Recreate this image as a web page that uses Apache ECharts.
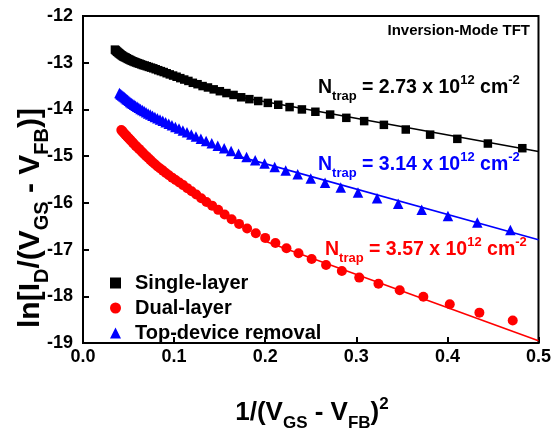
<!DOCTYPE html>
<html><head><meta charset="utf-8">
<script src="https://cdn.jsdelivr.net/npm/echarts@6/dist/echarts.min.js"></script>
<style>html,body{margin:0;padding:0;background:#fff}#c{width:554px;height:435px}</style>
</head><body><div id="c"></div>
<script>
// ---- data ----
const seriesNames = ['Single-layer', 'Dual-layer', 'Top-device removal'];
const xTickLabels = ['0.0', '0.1', '0.2', '0.3', '0.4', '0.5'];
const yTickLabels = ['-19', '-18', '-17', '-16', '-15', '-14', '-13', '-12'];

const xSingle = [0.03507,0.03587,0.03670,0.03756,0.03845,0.03937,0.04032,0.04131,0.04234,0.04340,0.04451,0.04566,0.04685,0.04809,0.04938,0.05073,0.05213,0.05358,0.05510,0.05669,0.05834,0.06007,0.06188,0.06377,0.06575,0.06782,0.06999,0.07226,0.07465,0.07716,0.07980,0.08257,0.08550,0.08858,0.09183,0.09526,0.09889,0.10273,0.10680,0.11111,0.11569,0.12056,0.12575,0.13127,0.13717,0.14348,0.15023,0.15747,0.16525,0.17361,0.18263,0.19237,0.20291,0.21433,0.22676,0.24029,0.25508,0.27127,0.28905,0.30864,0.33029,0.35431,0.38104,0.41091,0.44444,0.48225];
const ySingle = [-12.72,-12.735,-12.75,-12.765,-12.78,-12.795,-12.81,-12.825,-12.84,-12.855,-12.87,-12.88,-12.89,-12.905,-12.92,-12.93,-12.945,-12.96,-12.97,-12.985,-12.995,-13.01,-13.02,-13.035,-13.05,-13.06,-13.075,-13.09,-13.105,-13.12,-13.14,-13.16,-13.18,-13.20,-13.225,-13.25,-13.275,-13.30,-13.33,-13.36,-13.39,-13.43,-13.46,-13.50,-13.53,-13.57,-13.61,-13.65,-13.69,-13.74,-13.78,-13.82,-13.86,-13.90,-13.95,-14.00,-14.05,-14.11,-14.18,-14.25,-14.33,-14.43,-14.54,-14.63,-14.73,-14.83];

const xDual = [0.04206,0.04311,0.04421,0.04535,0.04653,0.04776,0.04903,0.05036,0.05175,0.05319,0.05469,0.05626,0.05790,0.05961,0.06139,0.06326,0.06521,0.06725,0.06940,0.07164,0.07400,0.07648,0.07908,0.08182,0.08470,0.08774,0.09094,0.09432,0.09790,0.10169,0.10569,0.10994,0.11444,0.11923,0.12433,0.12977,0.13556,0.14176,0.14838,0.15549,0.16311,0.17132,0.18015,0.18969,0.20001,0.21120,0.22335,0.23657,0.25100,0.26680,0.28414,0.30323,0.32431,0.34766,0.37362,0.40261,0.43511,0.47171];
const yDual = [-14.44,-14.465,-14.49,-14.515,-14.54,-14.565,-14.595,-14.62,-14.65,-14.68,-14.71,-14.745,-14.78,-14.81,-14.845,-14.88,-14.92,-14.96,-15.00,-15.04,-15.085,-15.13,-15.175,-15.22,-15.265,-15.31,-15.36,-15.41,-15.46,-15.51,-15.565,-15.62,-15.685,-15.75,-15.82,-15.90,-15.98,-16.06,-16.15,-16.25,-16.35,-16.45,-16.55,-16.65,-16.75,-16.86,-16.97,-17.08,-17.20,-17.33,-17.46,-17.60,-17.73,-17.87,-18.01,-18.17,-18.35,-18.52];

const xTop = [0.04000,0.04098,0.04199,0.04304,0.04414,0.04527,0.04645,0.04767,0.04895,0.05027,0.05165,0.05309,0.05459,0.05615,0.05778,0.05949,0.06127,0.06313,0.06508,0.06712,0.06925,0.07149,0.07384,0.07631,0.07890,0.08163,0.08451,0.08753,0.09073,0.09410,0.09766,0.10142,0.10541,0.10964,0.11413,0.11891,0.12398,0.12939,0.13516,0.14133,0.14793,0.15500,0.16259,0.17075,0.17955,0.18904,0.19930,0.21042,0.22250,0.23565,0.25000,0.26570,0.28293,0.30190,0.32283,0.34602,0.37180,0.40058,0.43283,0.46913];
const yTop = [-13.65,-13.67,-13.685,-13.70,-13.72,-13.735,-13.755,-13.775,-13.795,-13.815,-13.84,-13.86,-13.88,-13.90,-13.92,-13.94,-13.965,-13.99,-14.01,-14.035,-14.06,-14.085,-14.11,-14.135,-14.16,-14.19,-14.215,-14.245,-14.275,-14.305,-14.34,-14.375,-14.41,-14.45,-14.49,-14.535,-14.58,-14.625,-14.675,-14.725,-14.78,-14.83,-14.89,-14.95,-15.02,-15.09,-15.16,-15.23,-15.31,-15.39,-15.48,-15.57,-15.67,-15.78,-15.90,-16.02,-16.15,-16.28,-16.42,-16.58];

// linear fits (end points)
const fitSingleX = [0.17, 0.5];   const fitSingleY = [-13.73, -14.90];
const fitDualX   = [0.20, 0.5];   const fitDualY   = [-16.82, -18.95];
const fitTopX    = [0.17, 0.5];   const fitTopY    = [-15.00, -16.79];

const nTrap = ['2.73', '3.14', '3.57'];
// ---------------------------------------

const FF = '"Liberation Sans", Arial, sans-serif';
const zip = (a, b) => a.map((v, i) => [v, b[i]]);
const chart = echarts.init(document.getElementById('c'));

function annRich(color) {
  return {
    n:   {fontFamily: FF, fontWeight: 'bold', fontSize: 19.5, lineHeight: 19, fill: color, color: color},
    sub: {fontFamily: FF, fontWeight: 'bold', fontSize: 13, lineHeight: 13, fill: color, color: color, padding: [16, 0, 0, 0]},
    sup: {fontFamily: FF, fontWeight: 'bold', fontSize: 13, lineHeight: 13, fill: color, color: color, padding: [0, 0, 15, 0]}
  };
}
function annText(v) {
  return '{n|N}{sub|trap}{n| = ' + v + ' x 10}{sup|12}{n| cm}{sup|-2}';
}
function annotation(v, color, x, y) {
  return {type: 'text', x: x, y: y, z: 100,
    style: {text: annText(v), rich: annRich(color), fill: color, x: 0, y: 0,
      align: 'left', verticalAlign: 'middle', font: 'bold 19px ' + FF}};
}

const titleRich = (main, sub) => ({
  m:  {fontFamily: FF, fontWeight: 'bold', fontSize: main, lineHeight: main, fill: '#000'},
  s:  {fontFamily: FF, fontWeight: 'bold', fontSize: sub, lineHeight: sub, fill: '#000', padding: [Math.round(main * 0.75), 0, 0, 0]},
  p:  {fontFamily: FF, fontWeight: 'bold', fontSize: sub, lineHeight: sub, fill: '#000', padding: [0, 0, Math.round(main * 0.7), 0]}
});

chart.setOption({
  animation: false,
  backgroundColor: '#fff',
  grid: {left: 83, top: 16, right: 14, bottom: 92, show: true, borderColor: '#000', borderWidth: 2, backgroundColor: 'transparent'},
  xAxis: {
    type: 'value', min: 0, max: 0.5, interval: 0.1,
    axisLine: {show: true, onZero: false, lineStyle: {color: '#000', width: 2}},
    axisTick: {show: true, inside: true, length: 6, lineStyle: {color: '#000', width: 2}},
    splitLine: {show: false},
    axisLabel: {color: '#000', fontFamily: FF, fontWeight: 'bold', fontSize: 18, margin: 5,
      formatter: (v) => xTickLabels[Math.round(v * 10)]}
  },
  yAxis: {
    type: 'value', min: -19, max: -12, interval: 1,
    axisLine: {show: true, onZero: false, lineStyle: {color: '#000', width: 2}},
    axisTick: {show: true, inside: true, length: 6, lineStyle: {color: '#000', width: 2}},
    splitLine: {show: false},
    axisLabel: {color: '#000', fontFamily: FF, fontWeight: 'bold', fontSize: 18, margin: 10,
      formatter: (v) => yTickLabels[Math.round(v + 19)]}
  },
  legend: {
    orient: 'vertical', left: 105, top: 268, itemWidth: 11, itemHeight: 11, itemGap: 5,
    data: [
      {name: seriesNames[0], icon: 'rect'},
      {name: seriesNames[1], icon: 'circle'},
      {name: seriesNames[2], icon: 'triangle'}
    ],
    textStyle: {color: '#000', fontFamily: FF, fontWeight: 'bold', fontSize: 20, lineHeight: 20, padding: [0, 0, 0, 9]}
  },
  series: [
    {type: 'line', data: zip(fitSingleX, fitSingleY), symbol: 'none', lineStyle: {color: '#000', width: 1.6}, itemStyle: {color: '#000'}, silent: true, z: 1},
    {type: 'line', data: zip(fitDualX, fitDualY), symbol: 'none', lineStyle: {color: '#ff0000', width: 1.6}, itemStyle: {color: '#ff0000'}, silent: true, z: 1},
    {type: 'line', data: zip(fitTopX, fitTopY), symbol: 'none', lineStyle: {color: '#0000ff', width: 1.6}, itemStyle: {color: '#0000ff'}, silent: true, z: 1},
    {name: seriesNames[0], type: 'scatter', data: zip(xSingle, ySingle), symbol: 'rect', symbolSize: 8.5, itemStyle: {color: '#000', opacity: 1}, z: 3},
    {name: seriesNames[1], type: 'scatter', data: zip(xDual, yDual), symbol: 'circle', symbolSize: 10, itemStyle: {color: '#ff0000', opacity: 1}, z: 3},
    {name: seriesNames[2], type: 'scatter', data: zip(xTop, yTop), symbol: 'triangle', symbolSize: 10.5, itemStyle: {color: '#0000ff', opacity: 1}, z: 3}
  ],
  graphic: [
    {type: 'text', x: 530, y: 31, z: 100, style: {text: 'Inversion-Mode TFT', fill: '#000', align: 'right', verticalAlign: 'middle', font: 'bold 15px ' + FF}},
    annotation(nTrap[0], '#000', 318, 88),
    annotation(nTrap[1], '#0000ff', 318, 165),
    annotation(nTrap[2], '#ff0000', 325, 250),
    {type: 'text', x: 312, y: 413, z: 100,
      style: {text: '{m|1/(V}{s|GS}{m| - V}{s|FB}{m|)}{p|2}', rich: titleRich(26, 17), align: 'center', verticalAlign: 'middle', fill: '#000'}},
    {type: 'text', x: 31, y: 218, rotation: Math.PI / 2, z: 100,
      style: {text: '{m|ln[I}{s|D}{m|/(V}{s|GS}{m| - V}{s|FB}{m|)]}', rich: titleRich(30, 20), align: 'center', verticalAlign: 'middle', fill: '#000'}}
  ]
});
</script></body></html>
